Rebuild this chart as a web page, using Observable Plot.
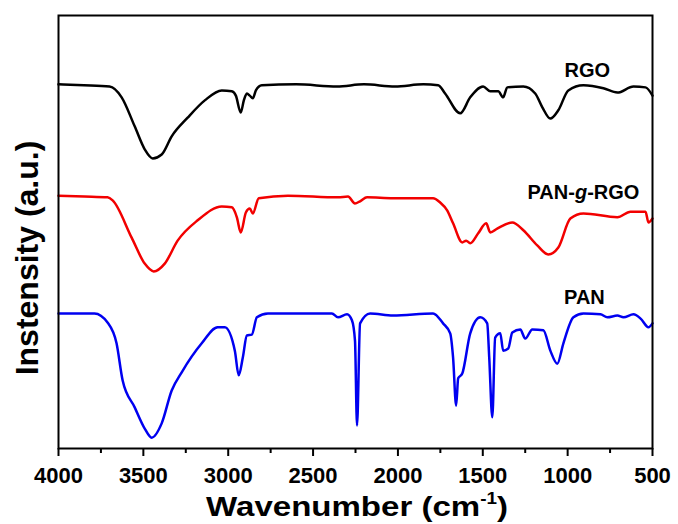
<!DOCTYPE html>
<html>
<head>
<meta charset="utf-8">
<script src="https://cdn.jsdelivr.net/npm/d3@7"></script>
<script src="https://cdn.jsdelivr.net/npm/@observablehq/plot@0.6"></script>
<style>
  html, body { margin: 0; padding: 0; background: #fff; }
  #chart { width: 678px; height: 524px; }
</style>
</head>
<body>
<div id="chart"></div>
<script>
// Wavenumber (cm-1) and intensity (a.u., offset)
const wnRGO = [4000,3850,3699,3628,3551,3492,3445,3392,3333,3239,3138,3038,2979,2955,2926,2908,2890,2873,2855,2837,2802,2600,2359,2200,2017,1850,1763,1722,1633,1574,1498,1456,1409,1380,1356,1261,1191,1149,1102,1055,996,907,789,707,612,541,500];
const intRGO = [84.1,83.9,83.6,81.1,74.4,69.1,67.0,67.9,72.1,76.4,80.4,82.7,82.5,81.5,77.6,80.4,82.0,81.5,80.9,82.7,83.9,84.1,83.6,84.1,83.6,84.1,83.9,82.0,77.4,81.1,83.6,82.5,82.5,81.1,83.4,83.6,82.0,78.8,76.2,78.1,82.7,83.9,83.2,82.2,83.6,83.4,81.5];

const wnPANgRGO = [4000,3847,3711,3681,3569,3492,3439,3374,3298,3180,3038,2979,2949,2926,2896,2873,2855,2820,2648,2353,2294,2253,2223,2182,2029,1793,1751,1710,1675,1621,1598,1574,1527,1480,1456,1415,1326,1261,1179,1114,1055,984,907,707,630,541,524,500];
const intPANgRGO = [58.4,58.2,58.0,57.3,48.7,42.7,40.9,42.7,48.0,52.7,55.9,55.7,53.4,49.9,54.5,55.4,54.3,57.8,58.4,58.0,58.2,56.6,57.1,58.0,57.8,57.8,56.8,55.0,52.0,47.6,48.0,47.4,49.7,52.0,49.9,50.8,52.2,50.4,46.9,44.8,46.4,53.1,54.3,53.4,54.7,54.7,52.2,53.1];

const wnPAN = [4000,3788,3711,3658,3622,3551,3492,3451,3392,3333,3274,3156,3062,3020,2961,2938,2914,2890,2861,2831,2766,2389,2353,2300,2271,2253,2241,2223,2164,2029,1793,1734,1692,1675,1657,1645,1621,1574,1515,1474,1462,1444,1427,1397,1380,1350,1326,1279,1250,1208,1143,1102,1061,1025,966,907,807,766,707,671,612,570,524,500];
const intPAN = [31.2,31.2,29.1,24.3,15.7,9.5,4.6,2.5,5.8,13.4,17.6,24.3,28.0,28.0,22.6,16.9,21.0,26.1,26.3,30.3,31.2,31.2,30.3,31.0,29.6,24.9,5.3,28.9,31.2,30.7,31.2,28.9,26.6,21.0,9.9,16.2,17.3,26.6,30.3,28.9,21.0,7.2,25.6,26.6,22.6,23.1,26.8,27.5,25.4,27.5,27.3,22.6,19.6,24.3,30.3,31.2,31.0,30.3,30.7,30.3,31.0,30.0,28.0,28.9];

const seriesNames = ["RGO", "PAN-g-RGO", "PAN"];
const seriesColors = ["#000000", "#f20000", "#0000f0"];
const labelWn = [884, 907, 901];
const labelInt = [87.3, 59.1, 34.8];

const majorTicks = [4000, 3500, 3000, 2500, 2000, 1500, 1000, 500];
const minorTicks = [3750, 3250, 2750, 2250, 1750, 1250, 750];

const xTitle = "Wavenumber (cm";
const xTitleSup = "-1";
const yTitle = "Instensity (a.u.)";

const zip = (name, wn, v) => wn.map((w, i) => ({series: name, wn: w, v: v[i]}));
const data = [
  ...zip("RGO", wnRGO, intRGO),
  ...zip("PAN-g-RGO", wnPANgRGO, intPANgRGO),
  ...zip("PAN", wnPAN, intPAN)
];
const labels = seriesNames.map((s, i) => ({text: s, wn: labelWn[i], v: labelInt[i]}));

const chart = Plot.plot({
  width: 678,
  height: 524,
  marginLeft: 58,
  marginRight: 26,
  marginTop: 15,
  marginBottom: 76,
  style: {fontFamily: "'Liberation Sans', Arial, sans-serif", fontWeight: "bold", fontSize: "22px", color: "#000", background: "#fff"},
  x: {domain: [4000, 500]},
  y: {domain: [0, 100], axis: null},
  color: {domain: seriesNames, range: seriesColors},
  marks: [
    Plot.axisX({ticks: minorTicks, tickSize: 5, tickFormat: () => "", label: null, strokeWidth: 2}),
    Plot.axisX({ticks: majorTicks, tickSize: 8, tickPadding: 11, tickFormat: "d", label: null, strokeWidth: 2, fontSize: 22, fontWeight: "bold"}),
    Plot.line(data, {x: "wn", y: "v", z: "series", stroke: "series", strokeWidth: 2.5, curve: "monotone-x", strokeLinejoin: "round"}),
    Plot.text(labels, {x: "wn", y: "v", text: "text", fontSize: 20, fontWeight: "bold", fill: "#000", textAnchor: "middle", lineAnchor: "middle"}),
    Plot.frame({stroke: "#000", strokeWidth: 2})
  ]
});

document.getElementById("chart").appendChild(chart);

const svg = d3.select(chart);
// italic g in PAN-g-RGO
svg.selectAll("text").filter(function() { return this.textContent === "PAN-g-RGO"; })
  .each(function() {
    const t = d3.select(this);
    t.text(null);
    t.append("tspan").text("PAN-");
    t.append("tspan").attr("font-style", "italic").text("g");
    t.append("tspan").text("-RGO");
  });

// x axis title with superscript
const xt = svg.append("text")
  .attr("transform", "translate(357,516) scale(1.18,1)")
  .attr("text-anchor", "middle")
  .attr("font-size", 28)
  .attr("font-weight", "bold")
  .attr("fill", "#000");
xt.append("tspan").text(xTitle);
xt.append("tspan").attr("dy", -12).attr("font-size", 16).text(xTitleSup);
xt.append("tspan").attr("dy", 12).text(")");

// y axis title
svg.append("text")
  .attr("transform", "translate(38,258) rotate(-90)")
  .attr("text-anchor", "middle")
  .attr("font-size", 32)
  .attr("font-weight", "bold")
  .attr("fill", "#000")
  .text(yTitle);
</script>
</body>
</html>
